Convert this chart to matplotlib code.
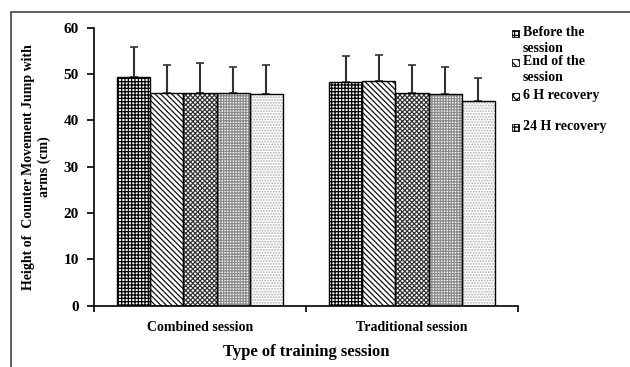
import matplotlib
matplotlib.use("Agg")
import matplotlib.pyplot as plt
import numpy as np
from matplotlib.patches import Rectangle

plt.rcParams['font.family'] = ['Liberation Serif', 'DejaVu Serif']
plt.rcParams['font.weight'] = 'bold'
plt.rcParams['hatch.linewidth'] = 0.9

sessions = ['Combined session', 'Traditional session']
moments = ['Before the\nsession', 'End of the\nsession', '6 H recovery', '24 H recovery', '48 H recovery']
means = {
    'Before the\nsession': [49.4, 48.2],
    'End of the\nsession': [46.0, 48.6],
    '6 H recovery': [45.8, 45.8],
    '24 H recovery': [45.8, 45.6],
    '48 H recovery': [45.6, 44.2],
}
sds = {
    'Before the\nsession': [6.4, 5.8],
    'End of the\nsession': [6.0, 5.6],
    '6 H recovery': [6.5, 6.1],
    '24 H recovery': [5.7, 6.0],
    '48 H recovery': [6.3, 5.0],
}

# hatch pattern and hatch colour per moment
styles = [('+++++', 'black'), ('\\\\\\\\\\\\', '#111111'), ('xxxxxxx', '#333333'),
          ('++++++', '#8a8a8a'), ('......', '#b0b0b0')]
legend_hatches = ['++++', '\\\\\\\\', 'xxxx', '++++']

fig = plt.figure(figsize=(6.3, 3.67), dpi=100)
ax = fig.add_axes([94/630, 1-305.7/367, 424/630, 278/367])

x = np.arange(len(sessions))
width = 0.156
offsets = (np.arange(len(moments)) - 2) * width
for i, m in enumerate(moments):
    hatch, hcol = styles[i]
    pos = x + offsets[i]
    ax.bar(pos, means[m], width, color='white', edgecolor=hcol, hatch=hatch, linewidth=0, zorder=2)
    ax.bar(pos, means[m], width, fill=False, edgecolor='black', linewidth=1.0, zorder=3)
    ax.errorbar(pos, means[m], yerr=[np.zeros(len(sessions)), sds[m]], fmt='none',
                ecolor='#333333', elinewidth=1.5, capsize=3, capthick=1.2, zorder=1)

ax.set_xlim(-0.5, 1.5)
ax.set_ylim(0, 60)
ax.set_yticks(np.arange(0, 61, 10))
ax.set_xticks([-0.5, 0.5, 1.5])
ax.set_xticklabels([])
ax.tick_params(axis='x', length=4, width=1.2, direction='out')
ax.tick_params(axis='y', length=5, width=1.2, direction='out', labelsize=11, pad=6)
for s in ['top', 'right']:
    ax.spines[s].set_visible(False)
for s in ['left', 'bottom']:
    ax.spines[s].set_linewidth(1.2)
for xi, name in zip(x, sessions):
    ax.text(xi, -3.3, name, ha='center', va='top', fontsize=10, fontweight='bold')
ax.text(0.5, -8.2, 'Type of training session', ha='center', va='top', fontsize=12,
        fontweight='bold')
ax.set_ylabel('Height of  Counter Movement Jump with\narms (cm)', fontsize=10, fontweight='bold',
              labelpad=9)

# legend (only the first four moments are listed in the original)
leg_y = [33, 62, 96, 127]
for i, m in enumerate(moments[:4]):
    yy = 1 - leg_y[i]/367
    fig.add_artist(Rectangle((512/630, yy - 3.5/367), 7/630, 7/367, transform=fig.transFigure,
                             facecolor='white', edgecolor='black', hatch=legend_hatches[i],
                             linewidth=0.6))
    fig.text(523/630, yy + 7/367, m, ha='left', va='top', fontsize=10, fontweight='bold',
             linespacing=1.25)

# outer frame (only left and top edges visible in the crop)
fig.add_artist(Rectangle((11/630, -0.2), 1.1, 1.2 - 12/367, transform=fig.transFigure,
                         fill=False, edgecolor='#444444', linewidth=1.2, clip_on=False))

fig.savefig('out.png', dpi=100)
